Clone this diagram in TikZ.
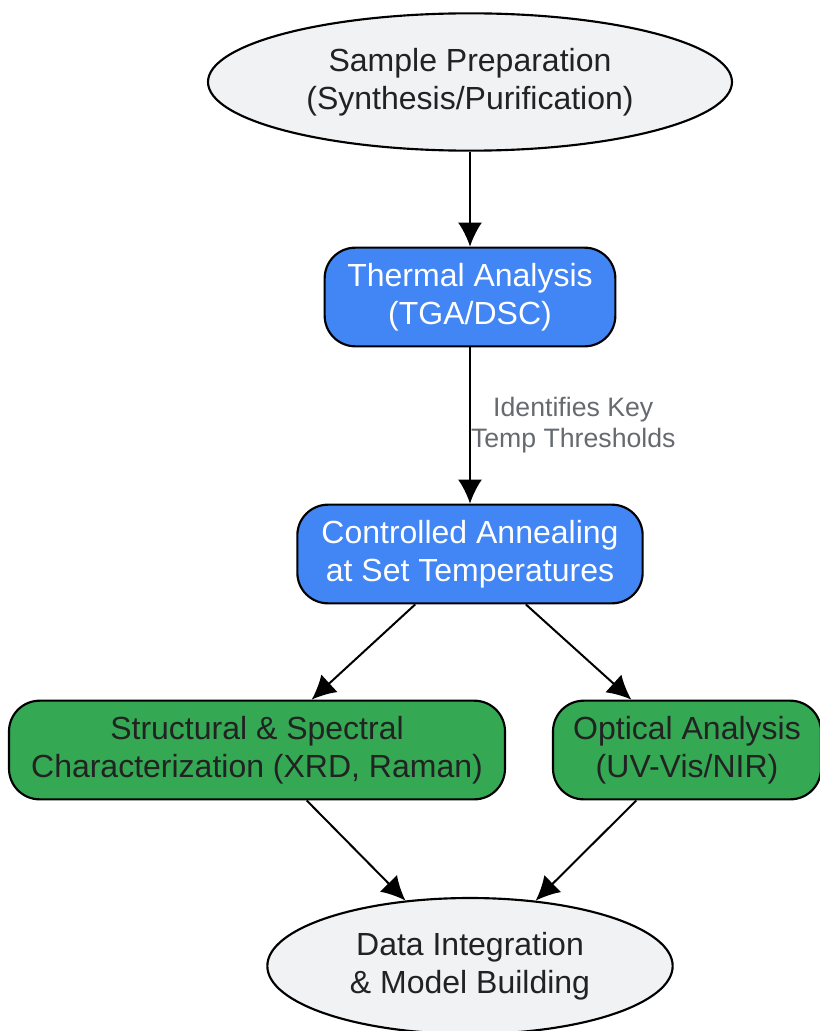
\documentclass[tikz,border=0pt]{standalone}
\usepackage{fontspec}
\setmainfont{Liberation Sans}
\usepackage{tikz}
\usetikzlibrary{calc, positioning, shapes, arrows.meta}
\definecolor{stepblue}{HTML}{4285F4}
\definecolor{stepgreen}{HTML}{34A853}
\definecolor{termgray}{HTML}{F1F2F4}
\definecolor{inkdark}{HTML}{222222}
\definecolor{notegray}{HTML}{666A70}
\tikzstyle{terminal}=[ellipse, draw=black, line width=1.6pt, fill=termgray, text=inkdark, align=center, inner sep=0pt]
\tikzstyle{process}=[rectangle, rounded corners=23pt, draw=black, line width=1.6pt, fill=stepblue, text=white, align=center, inner sep=0pt, minimum height=74pt]
\tikzstyle{measure}=[process, fill=stepgreen, text=inkdark]
\tikzstyle{flow}=[-{Latex[length=18pt, width=18pt]}, line width=1.5pt, black]

\begin{document}
\begin{tikzpicture}[x=0.75pt, y=-0.75pt, font=\fontsize{24}{28.5}\selectfont]
		\useasboundingbox (0,0) rectangle (820,1031);
		\node[terminal, minimum width=393pt, minimum height=103pt] (prep) at (470,82) {Sample Preparation\\(Synthesis/Purification)};
		\node[process, minimum width=218pt] (thermal) at (470,297) {Thermal Analysis\\(TGA/DSC)};
		\node[process, minimum width=259pt] (anneal) at (470,554) {Controlled Annealing\\at Set Temperatures};
		\node[measure, minimum width=372pt] (struct) at (257,750) {Structural \& Spectral\\Characterization (XRD, Raman)};
		\node[measure, minimum width=201pt] (optic) at (687,750) {Optical Analysis\\(UV-Vis/NIR)};
		\node[terminal, minimum width=304pt, minimum height=102pt] (model) at (470,966) {Data Integration\\\& Model Building};

		\draw[flow] (prep) -- (thermal);
		\draw[flow] (thermal) -- node[midway, right, inner sep=0pt, text=notegray, align=center, font=\fontsize{20}{23.25}\selectfont] {Identifies Key\\Temp Thresholds} (anneal);
		\draw[flow] (anneal) -- (struct);
		\draw[flow] (anneal) -- (optic);
		\draw[flow] (struct) -- (model);
		\draw[flow] (optic) -- (model);
	\end{tikzpicture}
\end{document}
